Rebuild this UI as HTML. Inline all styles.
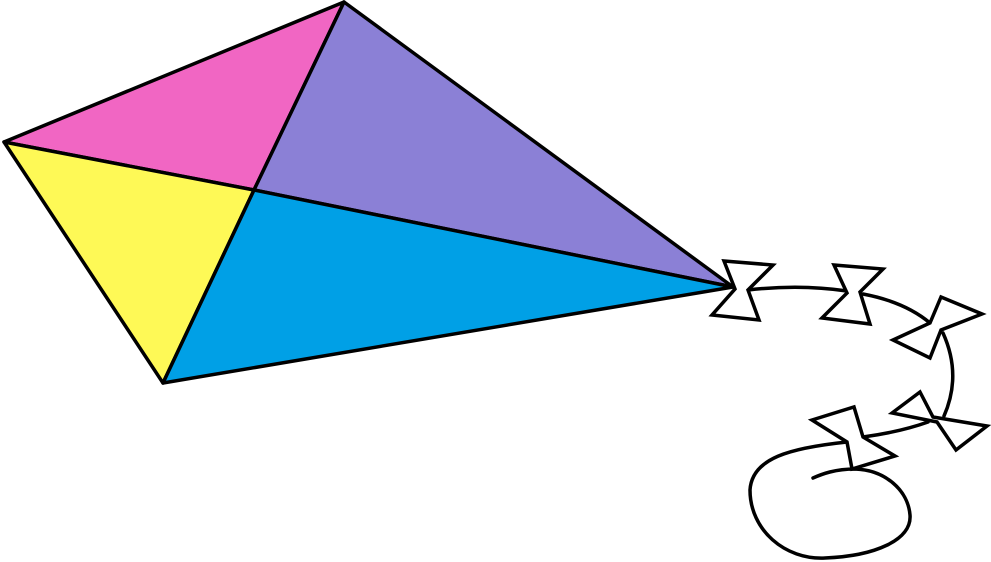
<!DOCTYPE html>
<html><head><meta charset="utf-8"><style>html,body{margin:0;padding:0;background:#fff;width:991px;height:562px;overflow:hidden}</style></head>
<body>
<svg width="991" height="562" viewBox="0 0 991 562">
<g stroke="#000" stroke-width="3.5" stroke-linejoin="round">
<polygon points="344,2 4,142 254,190" fill="#F166C3"/>
<polygon points="344,2 733,287 254,190" fill="#8B80D6"/>
<polygon points="4,142 163,383 254,190" fill="#FEF956"/>
<polygon points="163,383 733,287 254,190" fill="#00A0E6"/>
</g>
<g fill="none" stroke="#000" stroke-width="3.5" stroke-linecap="round">
<path d="M748,290 Q800,284 847,291"/>
<path d="M863,294 Q905,302 930,323"/>
<path d="M943,333 Q962,375 944,416"/>
<path d="M928,422 Q900,432 863,437"/>
<path d="M847,442 C790,448 752,458 750,490 C750,530 785,560 825,558 C875,556 912,540 910,515 C908,490 885,470 855,469 C835,469 822,474 813,478"/>
</g>
<g fill="#fff" stroke="#000" stroke-width="3.5" stroke-linejoin="miter">
<polygon points="724,261 773,265 748,290 759,320 712,315 735,289"/>
<polygon points="834,265 883,269 860,292 870,324 822,318 847,293"/>
<polygon points="941,297 982,314 941,330 930,358 893,340 930,323"/>
<polygon points="920,392 933,417 987,426 956,450 937,422 892,413"/>
<polygon points="812,420 854,407 863,437 895,456 852,469 847,442"/>
</g>
</svg>
</body></html>
